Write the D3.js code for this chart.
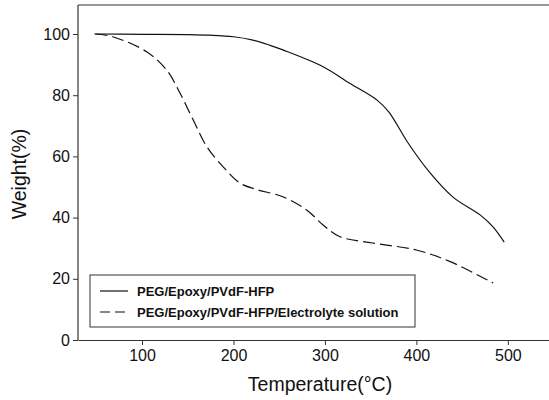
<!DOCTYPE html>
<html>
<head>
<meta charset="utf-8">
<script src="https://cdn.jsdelivr.net/npm/d3@7/dist/d3.min.js"></script>
<style>
  html, body { margin: 0; padding: 0; background: #fff; }
  svg { display: block; font-family: "Liberation Sans", Arial, sans-serif; }
</style>
</head>
<body>
<svg id="chart" width="549" height="400"></svg>
<script>
// ---- data ----
const seriesNames = ["PEG/Epoxy/PVdF-HFP", "PEG/Epoxy/PVdF-HFP/Electrolyte solution"];
const tempA   = [48, 100, 150, 175, 200, 220, 240, 254, 298, 327, 357, 370, 390, 415, 440, 470, 484, 496];
const weightA = [100, 99.9, 99.8, 99.6, 99.1, 98.1, 96.3, 94.8, 89.3, 83.9, 78.4, 74.5, 64.8, 54.6, 46.7, 40.8, 36.9, 32.0];
const tempB   = [49, 68, 105, 127, 141.5, 156, 171, 189, 207, 225, 254, 280, 298, 316, 352, 400, 437, 484];
const weightB = [100, 99.1, 94.2, 88.2, 80.7, 71.9, 63.1, 56.5, 51.3, 49.2, 46.8, 42.5, 37.6, 33.8, 31.7, 29.4, 25.6, 18.6];
const xTicks = [100, 200, 300, 400, 500];
const yTicks = [0, 20, 40, 60, 80, 100];

// ---- layout ----
const svg = d3.select("#chart");
const mLeft = 78, mRight = 549, mTop = 5, mBottom = 340;
const x = d3.scaleLinear().domain([30, 545]).range([mLeft, mRight]);
const y = d3.scaleLinear().domain([0, 100]).range([mBottom, 34]);

// frame lines
svg.append("line").attr("x1", mLeft).attr("x2", mRight).attr("y1", mTop).attr("y2", mTop)
  .attr("stroke", "#333").attr("stroke-width", 1.2);

const xAxis = svg.append("g").attr("transform", `translate(0,${mBottom})`)
  .call(d3.axisBottom(x).tickValues(xTicks).tickSize(5).tickSizeOuter(0).tickPadding(5));
const yAxis = svg.append("g").attr("transform", `translate(${mLeft},0)`)
  .call(d3.axisLeft(y).tickValues(yTicks).tickSize(5).tickSizeOuter(0).tickPadding(3));
yAxis.select(".domain").attr("d", `M0,${mBottom}V${mTop}`);
[xAxis, yAxis].forEach(g => {
  g.select(".domain").attr("stroke", "#333").attr("stroke-width", 1.2);
  g.selectAll(".tick line").attr("stroke", "#333").attr("stroke-width", 1);
  g.selectAll(".tick text").attr("font-size", 16).attr("fill", "#111")
    .attr("font-family", "'Liberation Sans', Arial, sans-serif");
});

// curves
const line = d3.line().x(d => x(d[0])).y(d => y(d[1])).curve(d3.curveCatmullRom.alpha(0.5));
const dataA = tempA.map((t, i) => [t, weightA[i]]);
const dataB = tempB.map((t, i) => [t, weightB[i]]);
svg.append("path").attr("d", line(dataA)).attr("fill", "none")
  .attr("stroke", "#111").attr("stroke-width", 1.2);
svg.append("path").attr("d", line(dataB)).attr("fill", "none")
  .attr("stroke", "#111").attr("stroke-width", 1.2).attr("stroke-dasharray", "12,5");

// axis titles
svg.append("text").attr("x", 320).attr("y", 391).attr("text-anchor", "middle")
  .attr("font-size", 19.5).attr("fill", "#111").text("Temperature(°C)");
svg.append("text").attr("transform", "translate(26,174) rotate(-90)").attr("text-anchor", "middle")
  .attr("font-size", 19.5).attr("fill", "#111").text("Weight(%)");

// legend
const lg = svg.append("g");
lg.append("rect").attr("x", 90).attr("y", 275).attr("width", 325).attr("height", 52)
  .attr("fill", "#fff").attr("stroke", "#333").attr("stroke-width", 1);
const dashes = [null, "10,5"];
seriesNames.forEach((name, i) => {
  const yy = 291 + i * 21;
  lg.append("line").attr("x1", 100).attr("x2", 128).attr("y1", yy).attr("y2", yy)
    .attr("stroke", "#111").attr("stroke-width", 1.2)
    .attr("stroke-dasharray", dashes[i]);
  lg.append("text").attr("x", 137).attr("y", yy + 4.5).attr("font-size", 13)
    .attr("font-weight", "bold").attr("fill", "#111").text(name);
});
</script>
</body>
</html>
